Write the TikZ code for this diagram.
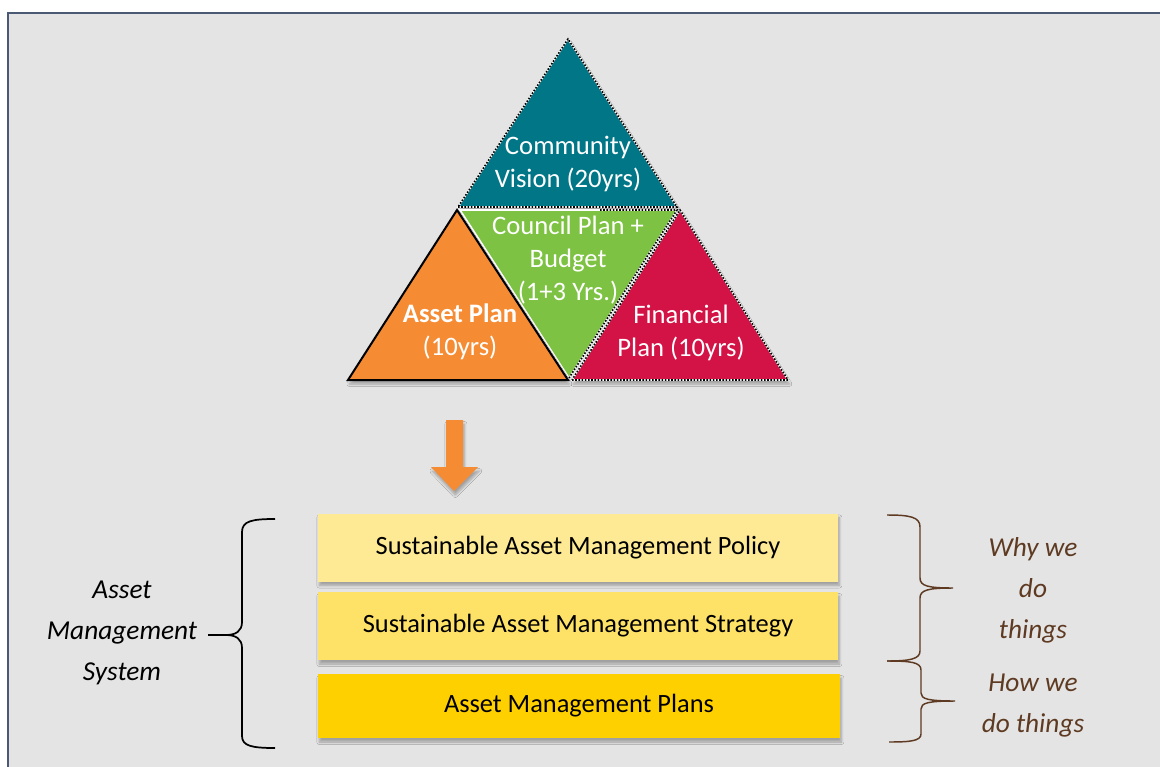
\documentclass[tikz,border=0pt]{standalone}
\usepackage{fontspec}
\setmainfont{Carlito}
\usetikzlibrary{shadows.blur}

\definecolor{panel}{RGB}{228,228,228}
\definecolor{frameblue}{RGB}{75,90,116}
\definecolor{vision}{RGB}{0,118,135}
\definecolor{council}{RGB}{125,194,66}
\definecolor{asset}{RGB}{245,140,52}
\definecolor{finance}{RGB}{211,18,69}
\definecolor{policy}{RGB}{254,234,148}
\definecolor{strategy}{RGB}{254,226,104}
\definecolor{plans}{RGB}{255,208,0}
\definecolor{bark}{RGB}{94,58,34}

\tikzset{
	soft/.style={blur shadow={shadow xshift=1pt, shadow yshift=-3pt, shadow opacity=30, shadow blur steps=6}},
	dotline/.style={draw=black, line width=1.2pt, dash pattern=on 1.2pt off 1.2pt},
	tritext/.style={text=white, align=center, font=\fontsize{20}{24.75}\selectfont},
	layer/.style={soft, minimum width=390pt, minimum height=51pt, inner sep=0pt, font=\fontsize{19.8}{22}\selectfont},
	aside/.style={align=center, font=\fontsize{20.5}{30.75}\selectfont\itshape},
}

\begin{document}
\begin{tikzpicture}[x=0.75pt,y=-0.75pt]
	\useasboundingbox (0,0) rectangle (1160,767);

	% panel
	\fill[white] (0,0) rectangle (1160,767);
	\fill[panel] (8,13) rectangle (1160,767);
	\draw[frameblue, line width=1.6pt] (1160,13) -- (8,13) -- (8,767);

	% the four plans
	\begin{scope}
		\fill[vision, soft] (458,207) -- (677,207) -- (568,39) -- cycle;
		\draw[white, line width=1.2pt] (458,207) -- (677,207) -- (568,39) -- cycle;
		\draw[dotline] (458,207) -- (677,207) -- (568,39) -- cycle;

		\fill[finance, soft] (572,380) -- (788,380) -- (680,210) -- cycle;
		\draw[white, line width=1.2pt] (572,380) -- (788,380) -- (680,210) -- cycle;
		\draw[dotline] (572,380) -- (788,380) -- (680,210) -- cycle;

		\fill[council] (460,210) -- (677,210) -- (569,378) -- cycle;
		\draw[white, line width=1.2pt] (460,210) -- (677,210) -- (569,378) -- cycle;
		\draw[dotline] (600,210) -- (677,210) -- (569,378);

		\fill[asset, soft] (348,380) -- (568,380) -- (457,210) -- cycle;
		\draw[black, line width=1.5pt, line join=miter] (348,380) -- (568,380) -- (457,210) -- cycle;
	\end{scope}

	\node[tritext] (vision) at (568,164) {Community\\Vision (20yrs)};
	\node[tritext] (council) at (568,260) {Council Plan +\\Budget\\(1+3 Yrs.)};
	\node[tritext] (asset) at (460,332) {\textbf{Asset Plan}\\(10yrs)};
	\node[tritext] (finance) at (681,333) {Financial\\Plan (10yrs)};

	% arrow down
	\fill[asset, soft] (446,420) -- (463,420) -- (463,467) -- (478,467) -- (454,491)
		-- (431,467) -- (446,467) -- cycle;

	% the three layers
	\node[layer, fill=policy] (policy) at (578,547.5) {Sustainable Asset Management Policy};
	\node[layer, fill=strategy] (strategy) at (578,626) {Sustainable Asset Management Strategy};
	\node[layer, fill=plans, minimum width=391.5pt, minimum height=48pt] (plans) at (579,706) {Asset Management Plans};

	% braces
	\draw[black, line width=1.3pt] (275,519) .. controls (252,519) and (242,521) .. (242,532)
		-- (242,622) .. controls (242,631) and (236,635) .. (226,635)
		.. controls (236,635) and (242,639) .. (242,648)
		-- (242,736) .. controls (242,746) and (252,748) .. (275,748);
	\draw[black, line width=1.3pt] (226,635) -- (208,635);

	\draw[bark, line width=1.1pt] (887,515) .. controls (910,515) and (920,517) .. (920,527)
		-- (920,578) .. controls (920,586) and (928,588) .. (953,588)
		.. controls (928,588) and (920,590) .. (920,598)
		-- (920,651) .. controls (920,659) and (910,661) .. (887,661);
	\draw[bark, line width=1.1pt] (887,661) .. controls (910,661) and (921,662) .. (921,670)
		-- (921,693) .. controls (921,699) and (928,701) .. (955,701)
		.. controls (928,701) and (921,703) .. (921,709)
		-- (921,734) .. controls (921,741) and (910,742) .. (889,742);

	\node[aside] (system) at (122,633) {Asset\\Management\\System};
	\node[aside, text=bark] (why) at (1033,590) {Why we\\do\\things};
	\node[aside, text=bark] (how) at (1033,706) {How we\\do things};
\end{tikzpicture}
\end{document}
